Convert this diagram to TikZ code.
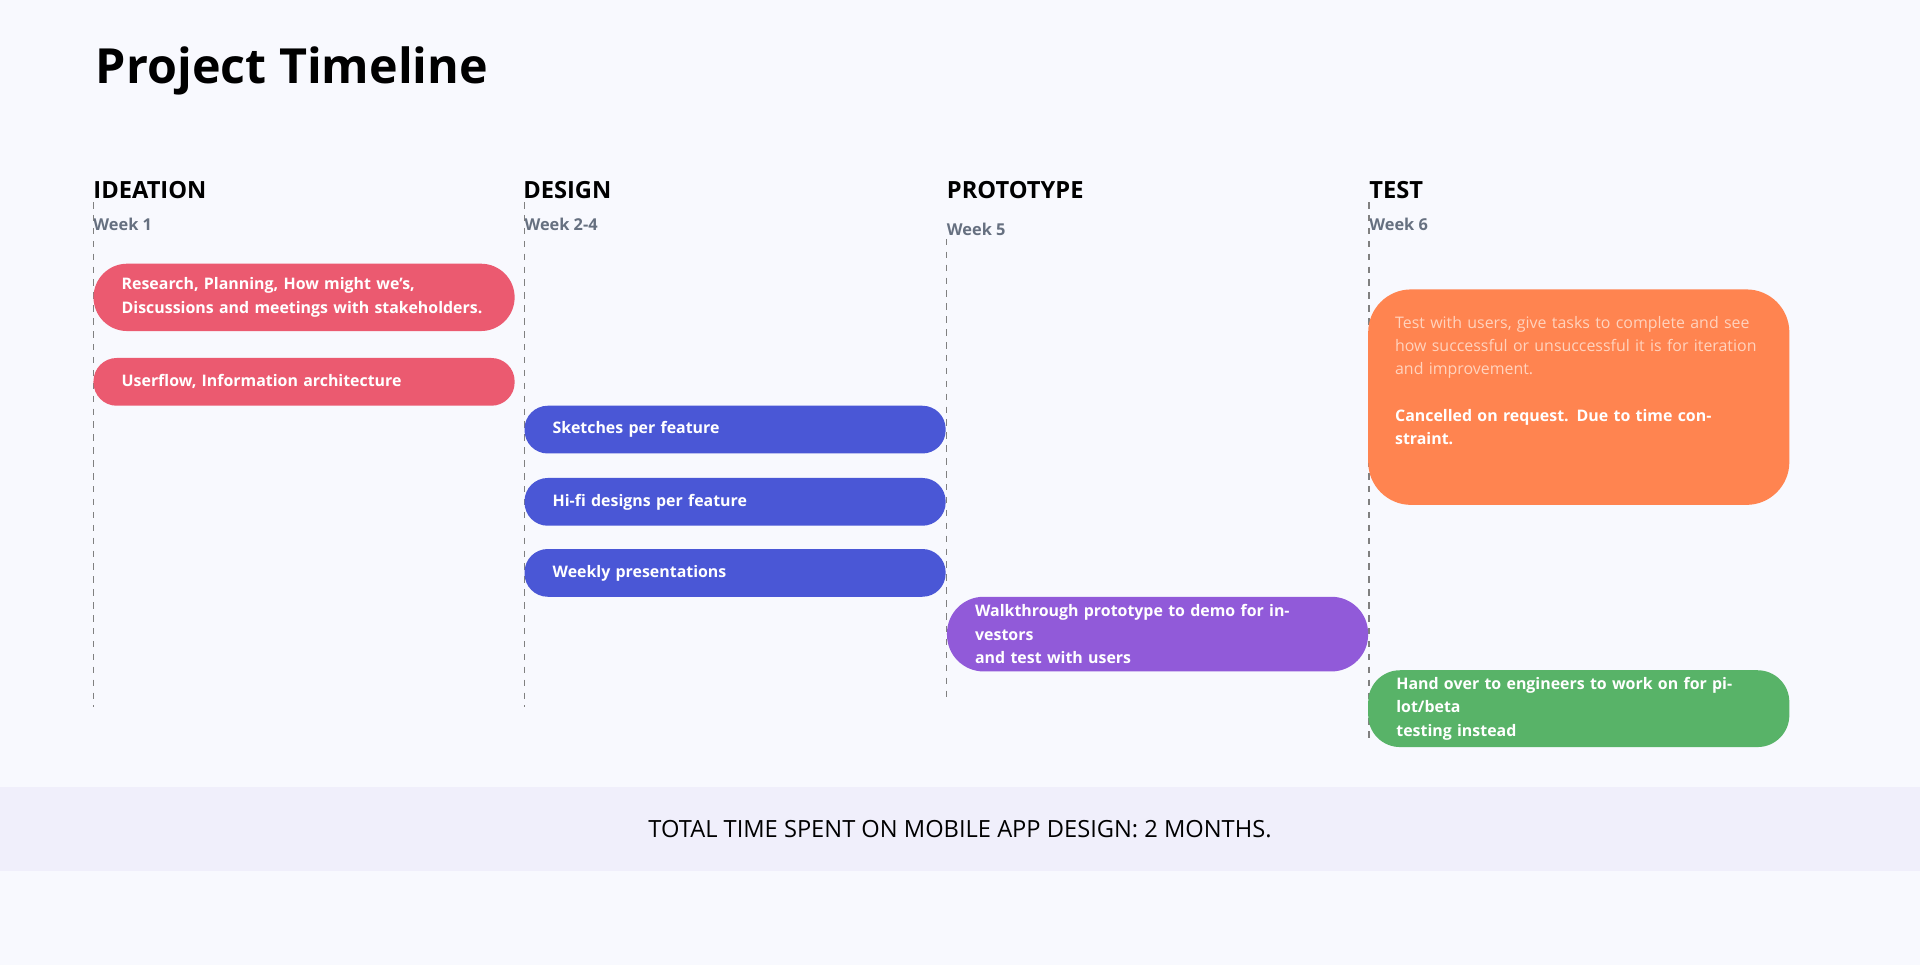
\documentclass[tikz,border=0pt]{standalone}
\usepackage{fontspec}
\setmainfont{Open Sans}
\definecolor{bgpage}{HTML}{F8F9FE}
\definecolor{bgband}{HTML}{F0EFFB}
\definecolor{ideared}{HTML}{EB5A70}
\definecolor{designblue}{HTML}{4A57D6}
\definecolor{protopurple}{HTML}{915AD9}
\definecolor{testorange}{HTML}{FF8450}
\definecolor{testgreen}{HTML}{58B368}
\definecolor{weekgray}{HTML}{667080}
\definecolor{fadedtext}{HTML}{FFD3BE}
\tikzset{
  phase/.style={anchor=west, font=\fontsize{11pt}{13pt}\selectfont\bfseries, inner sep=0pt},
  week/.style={anchor=west, font=\fontsize{7.6pt}{9pt}\selectfont\bfseries, text=weekgray, inner sep=0pt},
  guide/.style={dashed, draw=gray, line width=0.5pt},
  task/.style={anchor=north west, rounded corners=0.38cm, minimum width=6.88cm, text width=5.96cm,
    inner xsep=0.46cm, align=left, text=white, font=\fontsize{7.4pt}{10.8pt}\selectfont\bfseries}
}
\begin{document}
\begin{tikzpicture}[x=0.02cm, y=-0.02cm]
\fill [bgpage] (0, 0) rectangle (1568, 788);
\fill [bgband] (0, 643) rectangle (1568, 711);

\node (title) [anchor=west, inner sep=0pt, font=\fontsize{22.5pt}{26pt}\selectfont\bfseries] at (78, 58) {Project Timeline};

% phase headings
\node (ideation) [phase] at (76, 155) {IDEATION};
\node (design) [phase] at (427, 155) {DESIGN};
\node (proto) [phase] at (773, 155) {PROTOTYPE};
\node (test) [phase] at (1118, 155) {TEST};
\node (w1) [week] at (76, 183) {Week 1};
\node (w2) [week] at (428, 183) {Week 2-4};
\node (w5) [week] at (773, 187) {Week 5};
\node (w6) [week] at (1118, 183) {Week 6};

% guides
\coordinate (g1) at (76, 577);
\coordinate (g2) at (428, 577);
\coordinate (g3) at (773, 573);
\coordinate (g4) at (1118, 604);
\draw [guide] (76, 165) -- (g1);
\draw [guide] (428, 165) -- (g2);
\draw [guide] (773, 195) -- (g3);
\draw [guide] (1118, 165) -- (g4);

% tasks
\node (research) [task, fill=ideared, minimum height=1.1cm, rounded corners=0.55cm] at (76, 215)
  {Research, Planning, How might we’s,\\Discussions and meetings with stakeholders.};
\node (userflow) [task, fill=ideared, minimum height=0.78cm] at (76, 292) {Userflow, Information architecture};
\node (sketch) [task, fill=designblue, minimum height=0.78cm] at (428, 331) {Sketches per feature};
\node (hifi) [task, fill=designblue, minimum height=0.78cm] at (428, 390) {Hi-fi designs per feature};
\node (weekly) [task, fill=designblue, minimum height=0.78cm] at (428, 448) {Weekly presentations};
\node (walk) [task, fill=protopurple, minimum height=1.22cm, rounded corners=0.6cm] at (773, 487)
  {Walkthrough prototype to demo for investors\\and test with users};
\node (usertest) [task, fill=testorange, minimum height=3.52cm, rounded corners=0.7cm] at (1117, 236) {};
\node (usertext) [anchor=north west, text width=5.96cm, align=left, inner sep=0pt,
  font=\fontsize{7.4pt}{10.8pt}\selectfont] at (1139, 258)
  {\color{fadedtext}Test with users, give tasks to complete and see how successful or unsuccessful it is for iteration and improvement.\\[10.8pt]
   \color{white}\bfseries Cancelled on request. Due to time constraint.};
\node (handover) [task, fill=testgreen, minimum height=1.04cm, rounded corners=0.52cm] at (1117, 547)
  {Hand over to engineers to work on for pilot/beta\\testing instead};

\node (total) [inner sep=0pt, font=\fontsize{11pt}{13pt}\selectfont] at (784, 677) {TOTAL TIME SPENT ON MOBILE APP DESIGN: 2 MONTHS.};
\end{tikzpicture}
\end{document}
